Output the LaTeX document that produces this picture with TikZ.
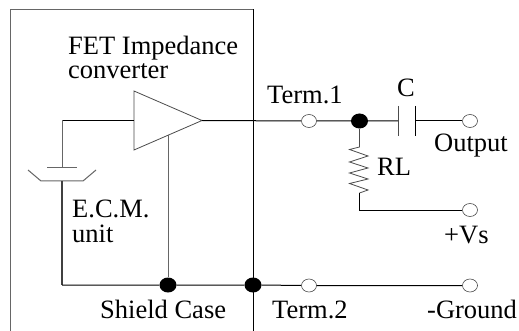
\documentclass[tikz,border=0pt]{standalone}
\usepackage{fontspec}
\setmainfont{Liberation Serif}
\usetikzlibrary{shapes.geometric}
\tikzset{
  x=1pt,y=-1pt,
  wire/.style={draw=black,line width=1pt},
  greywire/.style={draw=black!60,line width=1pt},
  thinwire/.style={draw=black!70,line width=0.8pt},
  term/.style={ellipse,draw=black!70,fill=white,line width=0.6pt,minimum width=15pt,minimum height=13pt,inner sep=0pt},
  junction/.style={ellipse,fill=black,draw=none,minimum width=17pt,minimum height=15pt,inner sep=0pt},
  lab/.style={inner sep=0pt,anchor=base west,font=\fontsize{26.5pt}{28pt}\selectfont}
}
\begin{document}
\begin{tikzpicture}
\useasboundingbox[fill=white] (0,0) rectangle (519,331);
% case
\coordinate (bl) at (10,331);
\coordinate (tl) at (10,9.5);
\coordinate (tr) at (253,9.5);
\coordinate (br) at (253,331);
\draw[greywire] (bl) -- (tl) -- (tr);
\draw[wire] (tr) -- (br);
% amplifier
\coordinate (ampA) at (134,91);
\coordinate (ampB) at (134,150);
\coordinate (ampOut) at (202,120.5);
\coordinate (ampIn) at (134,120.5);
\coordinate (ampBot) at (168,135.5);
\draw[thinwire,line join=miter] (ampA) -- (ampB) -- (ampOut) -- cycle;
% nodes
\node[junction] (d1) at (168,285) {};
\node[junction] (d2) at (253,285) {};
\node[junction] (d3) at (359.5,121) {};
\node[term] (t1) at (309,121) {};
\node[term] (t2) at (309,285.5) {};
\node[term] (tout) at (470,121) {};
\node[term] (tvs) at (470,210) {};
\node[term] (tgnd) at (470,285.5) {};
% ECM
\coordinate (micIn) at (62,120.5);
\coordinate (plateT) at (62,168);
\coordinate (plateB) at (62,181);
\coordinate (corner) at (62,285);
\draw[wire] (ampIn) -- (micIn);
\draw[greywire] (micIn) -- (plateT);
\draw[greywire] (47,168) -- (77,168);
\draw[greywire] (28,170) -- (41,181) -- (83,181) -- (96,170);
\draw[wire,draw=black!75,line width=1.2pt] (plateB) -- (corner);
\draw[wire] (corner) -- (d1) -- (d2) -- (t2) -- (tgnd);
\draw[greywire] (ampBot) -- (d1);
% output
\coordinate (capL) at (398,121);
\coordinate (capR) at (415,121);
\draw[wire] (ampOut) -- (t1) -- (d3) -- (capL);
\draw[wire] (capR) -- (tout);
\draw[thinwire] (398,106) -- (398,136);
\draw[wire] (415,106) -- (415,136);
% load resistor
\coordinate (rT) at (359.5,147);
\coordinate (rB) at (359.5,193);
\coordinate (rC) at (359.5,210);
\draw[thinwire] (d3) -- (rT) -- (349.5,149.5) -- (368,156) -- (349.5,162) -- (368,168) -- (349.5,173) -- (368,179) -- (349.5,183.5) -- (368,190) -- (rB);
\draw[wire] (rB) -- (rC) -- (tvs);
% labels
\node[lab] (l1) at (68,55) {FET Impedance};
\node[lab] (l2) at (68,79) {converter};
\node[lab] (l3) at (267,104) {Term.1};
\node[lab] (l4) at (397,97) {C};
\node[lab] (l5) at (434,152) {Output};
\node[lab] (l6) at (377,176) {RL};
\node[lab] (l7) at (444,243) {+Vs};
\node[lab] (l8) at (72,218) {E.C.M.};
\node[lab] (l9) at (72,242) {unit};
\node[lab] (l10) at (100,318) {Shield Case};
\node[lab] (l11) at (272,318) {Term.2};
\node[lab] (l12) at (427,318) {-Ground};
\end{tikzpicture}
\end{document}
